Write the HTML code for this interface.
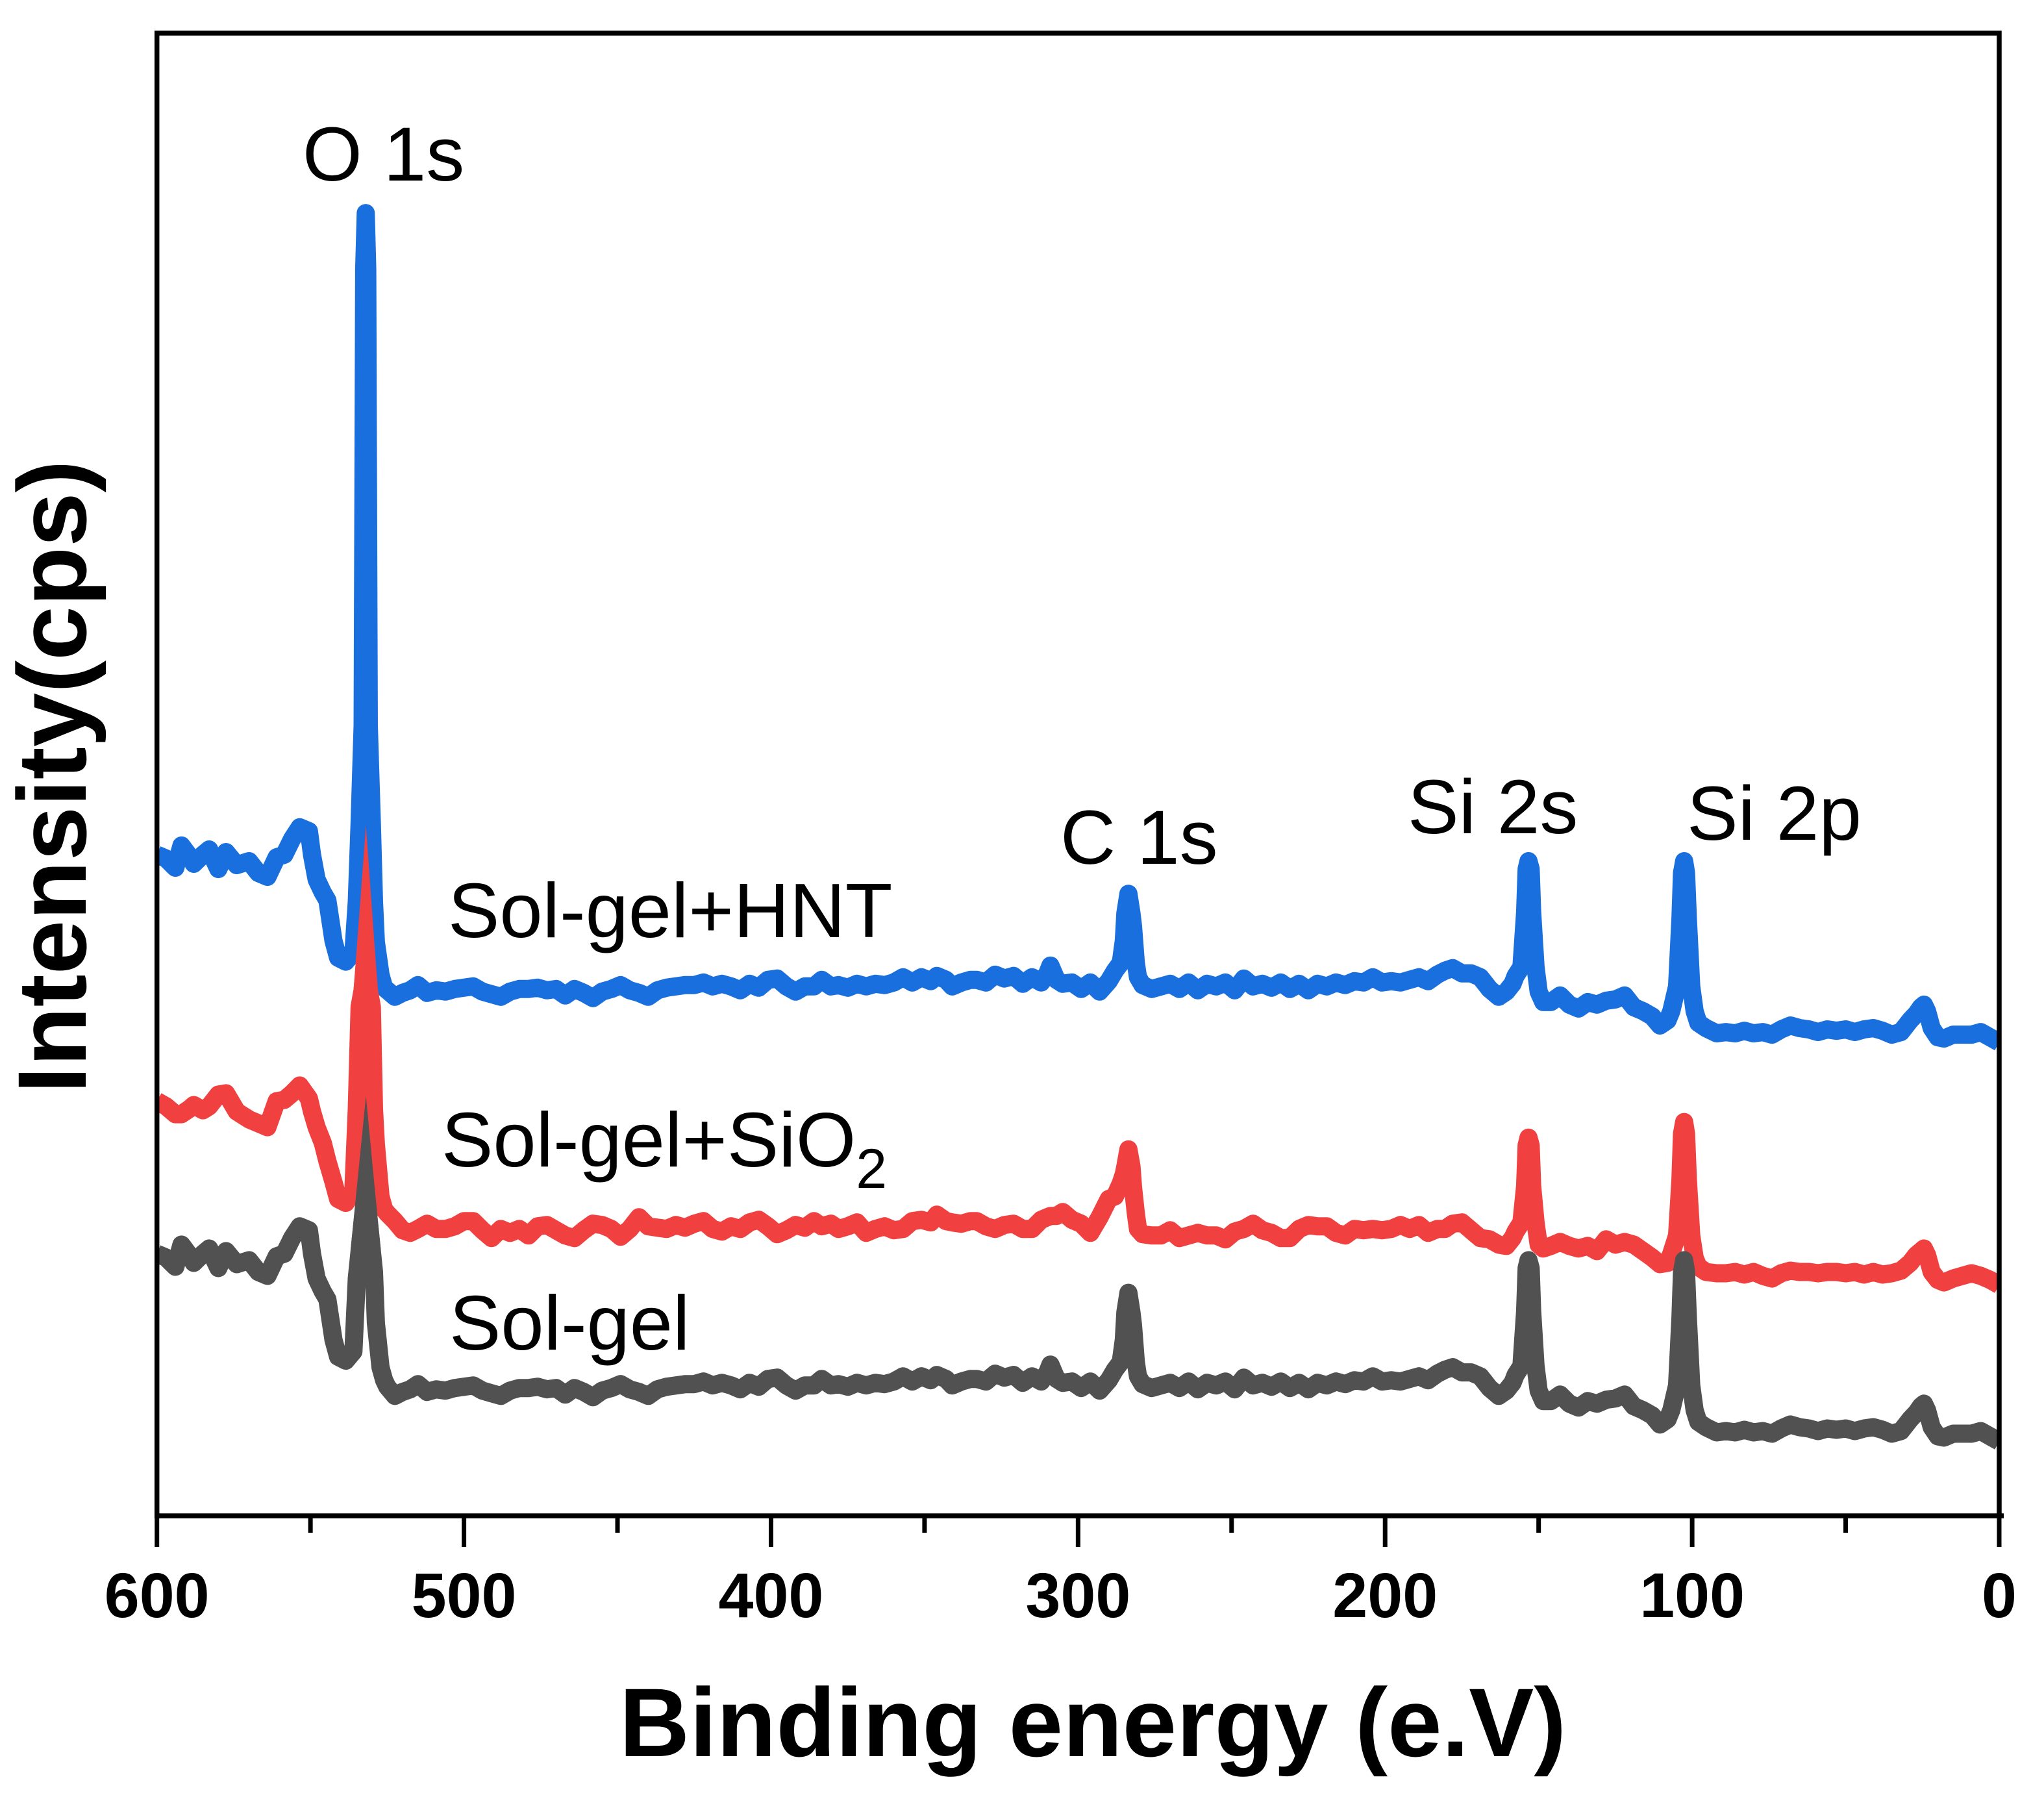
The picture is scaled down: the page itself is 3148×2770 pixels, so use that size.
<!DOCTYPE html>
<html lang="en">
<head>
<meta charset="utf-8">
<title>XPS survey spectra</title>
<style>
html,body{margin:0;padding:0;background:#fff;}
svg{display:block;}
text{font-family:"Liberation Sans",Arial,sans-serif;fill:#000;}
.note{font-size:118px;}
.tick{font-size:97px;font-weight:bold;text-anchor:middle;}
.title{font-size:150px;font-weight:bold;}
</style>
</head>
<body>
<svg id="chart" xmlns="http://www.w3.org/2000/svg" width="3148" height="2770" viewBox="0 0 3148 2770">
<defs><clipPath id="plot-clip"><rect x="241" y="51" width="2838" height="2283"/></clipPath></defs>
<g id="series" clip-path="url(#plot-clip)"></g>
<rect x="241.7" y="51" width="2837.3" height="2283" fill="none" stroke="#000" stroke-width="7.5" stroke-linejoin="miter"/>
<line x1="3079" x2="3086" y1="2334" y2="2334" stroke="#000" stroke-width="7.5"/>
<g id="x-ticks"></g>
<text class="note" x="466" y="278">O 1s</text>
<text class="note" x="1633" y="1330">C 1s</text>
<text class="note" x="2168" y="1283">Si 2s</text>
<text class="note" x="2598" y="1293">Si 2p</text>
<text class="note" style="font-size:119px" x="690" y="1443">Sol-gel+HNT</text>
<text class="note" style="font-size:119px" x="680" y="1796">Sol-gel+SiO<tspan style="font-size:86px" dy="33">2</tspan></text>
<text class="note" style="font-size:119px" x="692" y="2078">Sol-gel</text>
<text class="title" x="1683" y="2704" text-anchor="middle">Binding energy (e.V)</text>
<text class="title" text-anchor="middle" transform="translate(132 1196) rotate(-90)">Intensity(cps)</text>
</svg>
<script>
const energies = [
600,597,594,592,589.5,588,585,583,580,577.5,574,570,567,564,561,558.5,556,553.5,550.5,549.5,548,546,544.5,542.5,541,538.5,536,534.9,534,533,532.5,532,531.5,531,530,529.3,528.7,527.2,526,525,
522.5,520,517.5,515,512,509,506,503,500,497,494,491,488,485,482,479,476,473,470,467,464,461,458,455,452,449,446,443,440,
437,434,431,428,425,422,419,416,413,410,407,404,401,398,395,392,389,386,383.5,380.5,378,375,372,369,366,363,360,357,354,351,348,346,343,341,338,335,
333,330,327,324,321,318,315,312,310,309,
307,305,302,299,296,293,290,288,286.1,285.1,
284.6,283.6,282.6,282.1,281.2,280.5,279,276,273,270,
267,264,261,258,255,252,249,246,243,240,
237,234,231,228,225,222,219,216,213,210,
207,204,201,198,195,192,189,186,183,180.5,
178,175,172,169,166,163,160.5,158.5,157.5,155.6,
154.4,153.9,153.3,152.6,152.1,151,150,148.5,146,143,
140,137,134,131,128,125,122,119,116,113,
110.5,108,106.8,104.9,103.8,103.3,102.6,102,101.4,100.3,
99.2,98,95.5,92,89,86,83,80,77,74,
71,68,65,62,59,56,53,50,47,44,
41,38,35,32,29,27,25.5,24.5,23.5,22,
20,18,15,12,9,6,3,0];

const solGelValues = [
201,198,191,208,200,194,201,205,190,203,193,196,187,184,199,201,213,222,219,201,182,172,166,135,122,119,126,182,203,226,238,250,238,226,203,187,148,114,104,99,
92,95,97,101,95,97,96,98,99,100,96,94,92,96,98,98,99,97,98,93,98,95,91,96,98,101,97,95,92,
97,99,100,101,101,103,100,102,100,97,102,99,105,106,100,96,100,100,105,100,101,99,102,100,102,101,103,107,103,107,104,108,105,100,103,105,
105,103,109,106,108,102,107,103,110,116,
105,102,103,98,103,96,104,112,118,135,
156,171,156,146,118,107,101,98,100,102,
98,103,97,102,100,103,97,106,100,102,
99,103,98,102,97,102,100,103,101,104,
103,107,103,104,103,105,107,104,109,112,
114,110,110,107,98,92,96,102,108,115,
157,190,196,190,157,115,96,88,88,93,
86,83,88,86,89,90,93,84,81,77,
70,74,81,100,152,187,196,187,152,100,
81,72,68,64,65,64,66,64,65,63,
67,70,68,67,65,67,66,67,65,67,
68,66,63,65,74,79,84,86,81,68,
61,60,63,63,63,65,61,57];

const sio2Values = [
318,314,308,308,312,315,311,314,323,324,310,304,301,298,318,319,324,330,320,310,298,286,272,256,243,240,250,312,390,403,418,434,418,403,390,312,285,245,235,232,
226,219,217,220,224,220,220,222,226,226,219,213,220,217,220,215,222,223,219,215,213,219,224,223,220,214,220,229,222,
221,220,223,221,224,226,220,218,222,220,225,227,222,216,219,223,221,226,222,224,220,222,225,217,220,222,219,220,226,227,225,231,226,225,224,226,
226,222,220,223,224,220,220,227,229,230,
230,233,227,224,217,229,243,245,255,262,
268,281,268,252,232,220,216,215,215,219,
213,215,217,215,215,212,218,220,224,219,
217,213,213,220,223,222,222,217,215,220,
219,220,219,220,223,220,223,217,220,220,
224,225,219,213,212,208,207,213,218,225,
253,284,290,284,253,225,208,205,207,210,
207,205,207,203,212,208,210,208,203,198,
193,194,201,215,258,293,302,293,258,215,
198,191,187,186,186,187,185,187,184,182,
186,188,187,187,186,187,187,186,187,185,
187,185,186,188,194,200,203,205,200,187,
181,179,182,184,186,184,181,177];

const hntValues = [
201,198,191,208,200,194,201,205,190,203,193,196,187,184,199,201,213,222,219,201,182,172,166,135,122,119,126,165,225,300,650,693,650,300,225,165,134,109,99,97,
92,95,97,101,95,97,96,98,99,100,96,94,92,96,98,98,99,97,98,93,98,95,91,96,98,101,97,95,92,
97,99,100,101,101,103,100,102,100,97,102,99,105,106,100,96,100,100,105,100,101,99,102,100,102,101,103,107,103,107,104,108,105,100,103,105,
105,103,109,106,108,102,107,103,110,116,
105,102,103,98,103,96,104,112,118,135,
156,171,156,146,118,107,101,98,100,102,
98,103,97,102,100,103,97,106,100,102,
99,103,98,102,97,102,100,103,101,104,
103,107,103,104,103,105,107,104,109,112,
114,110,110,107,98,92,96,102,108,115,
157,190,196,190,157,115,96,88,88,93,
86,83,88,86,89,90,93,84,81,77,
70,74,81,100,152,187,196,187,152,100,
81,72,68,64,65,64,66,64,65,63,
67,70,68,67,65,67,66,67,65,67,
68,66,63,65,74,79,84,86,81,68,
61,60,63,63,63,65,61,57];

const hntStackOffset = 306;
const majorTicks = [600,500,400,300,200,100,0];
const minorTicks = [550,450,350,250,150,50];
const o1sRange = [534.5,529.5];

const svgNS = 'http://www.w3.org/2000/svg';
const plot = {left:241.7,right:3079,top:51,bottom:2334};
const xDomain = [600,0];
const yDomain = [0,1137];
function xScale(e){return plot.left+(e-xDomain[0])/(xDomain[1]-xDomain[0])*(plot.right-plot.left);}
function yScale(v){return plot.bottom-(v-yDomain[0])/(yDomain[1]-yDomain[0])*(plot.bottom-plot.top);}

function pointsFor(values,offset){
  return values.map(function(v,i){return xScale(energies[i]).toFixed(1)+','+yScale(v+offset).toFixed(1);}).join(' ');
}
function apexPointsFor(values){
  const out = [];
  values.forEach(function(v,i){
    if(energies[i]<=o1sRange[0] && energies[i]>=o1sRange[1]){
      out.push(xScale(energies[i]).toFixed(1)+','+yScale(v).toFixed(1));
    }
  });
  return out.join(' ');
}
const seriesGroup = document.getElementById('series');

const hntLine = document.createElementNS(svgNS,'polyline');


hntLine.setAttribute('points', pointsFor(hntValues,hntStackOffset));
hntLine.setAttribute('fill','none');
hntLine.setAttribute('stroke','#1a6fdf');
hntLine.setAttribute('stroke-width','28');
hntLine.setAttribute('stroke-linejoin','round');
seriesGroup.appendChild(hntLine);

const sio2Line = document.createElementNS(svgNS,'polyline');


sio2Line.setAttribute('points', pointsFor(sio2Values,0));
sio2Line.setAttribute('fill','none');
sio2Line.setAttribute('stroke','#f14040');
sio2Line.setAttribute('stroke-width','28');
sio2Line.setAttribute('stroke-linejoin','round');
seriesGroup.appendChild(sio2Line);

const sio2Apex = document.createElementNS(svgNS,'polyline');


sio2Apex.setAttribute('points', apexPointsFor(sio2Values));
sio2Apex.setAttribute('fill','none');
sio2Apex.setAttribute('stroke','#f14040');
sio2Apex.setAttribute('stroke-width','28');
sio2Apex.setAttribute('stroke-linejoin','miter');
sio2Apex.setAttribute('stroke-miterlimit','20');
seriesGroup.appendChild(sio2Apex);

const solGelLine = document.createElementNS(svgNS,'polyline');


solGelLine.setAttribute('points', pointsFor(solGelValues,0));
solGelLine.setAttribute('fill','none');
solGelLine.setAttribute('stroke','#515151');
solGelLine.setAttribute('stroke-width','28');
solGelLine.setAttribute('stroke-linejoin','round');
seriesGroup.appendChild(solGelLine);

const solGelApex = document.createElementNS(svgNS,'polyline');


solGelApex.setAttribute('points', apexPointsFor(solGelValues));
solGelApex.setAttribute('fill','none');
solGelApex.setAttribute('stroke','#515151');
solGelApex.setAttribute('stroke-width','28');
solGelApex.setAttribute('stroke-linejoin','miter');
solGelApex.setAttribute('stroke-miterlimit','20');
seriesGroup.appendChild(solGelApex);

const tickGroup = document.getElementById('x-ticks');
majorTicks.forEach(function(t){
  const mark = document.createElementNS(svgNS,'line');
  
  
  mark.setAttribute('x1',xScale(t));
  mark.setAttribute('x2',xScale(t));
  mark.setAttribute('y1',plot.bottom);
  mark.setAttribute('y2',plot.bottom+48);
  mark.setAttribute('stroke','#000');
  mark.setAttribute('stroke-width','7');
  tickGroup.appendChild(mark);
  const label = document.createElementNS(svgNS,'text');
  
  
  label.setAttribute('class','tick');
  label.setAttribute('x',xScale(t));
  label.setAttribute('y',2490);
  label.textContent = String(t);
  tickGroup.appendChild(label);
});
minorTicks.forEach(function(t){
  const mark = document.createElementNS(svgNS,'line');
  
  
  mark.setAttribute('x1',xScale(t));
  mark.setAttribute('x2',xScale(t));
  mark.setAttribute('y1',plot.bottom);
  mark.setAttribute('y2',plot.bottom+26);
  mark.setAttribute('stroke','#000');
  mark.setAttribute('stroke-width','7');
  tickGroup.appendChild(mark);
});
</script>
</body>
</html>
